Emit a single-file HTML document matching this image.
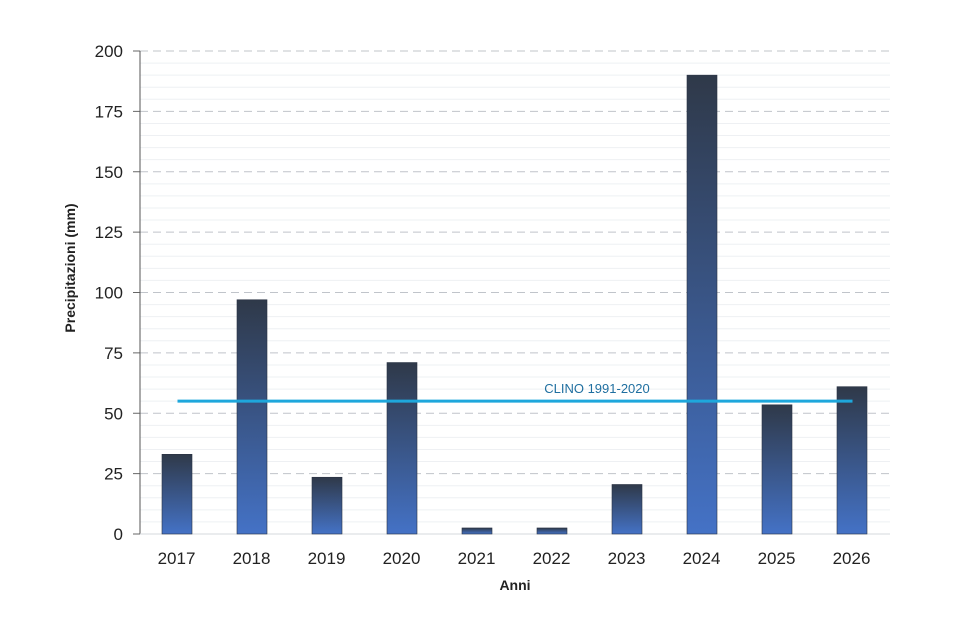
<!DOCTYPE html>
<html><head><meta charset="utf-8"><style>
body{margin:0;background:#fff;}
svg{display:block;font-family:"Liberation Sans",sans-serif;}
</style></head><body>
<svg id="c" width="980" height="631">
<defs><linearGradient id="g" x1="0" y1="0" x2="0" y2="1"><stop offset="0" stop-color="#2f3949"/><stop offset="1" stop-color="#4472c6"/></linearGradient></defs>
</svg>
<script>
const categories=["2017","2018","2019","2020","2021","2022","2023","2024","2025","2026"];
const values=[33,97,23.5,71,2.5,2.5,20.5,190,53.5,61];
const yTicks=[0,25,50,75,100,125,150,175,200];
const clinoValue=55;
const clinoLabel="CLINO 1991-2020";
const svg=document.getElementById('c');
const NS="http://www.w3.org/2000/svg";
const X0=140,X1=890,Y0=534,Y1=51,YMAX=200;
const y=v=>Y0-(v/YMAX)*(Y0-Y1);
const bw=(X1-X0)/categories.length;
const xc=i=>X0+bw*(i+0.5);
function mk(t,a,p){const e=document.createElementNS(NS,t);for(const k in a)e.setAttribute(k,a[k]);(p||svg).appendChild(e);return e;}
for(let v=5;v<YMAX;v+=5){if(v%25===0)continue;
 const l=mk('line',{x1:X0,x2:X1,y1:y(v),y2:y(v),stroke:'#eef0f3','stroke-width':1});
 
 }
yTicks.forEach(v=>{
 if(v>0){const l=mk('line',{x1:X0,x2:X1,y1:y(v),y2:y(v),stroke:'#c0c4ca','stroke-width':1,'stroke-dasharray':'8,5'});
 
 }
 const tk=mk('line',{x1:X0-7,x2:X0,y1:y(v),y2:y(v),stroke:'#666'});
 
 
 const t=mk('text',{x:123,y:y(v)+6,'text-anchor':'end','font-size':17,fill:'#222'});t.textContent=v;
 
 
});
const ax=mk('line',{x1:X0,x2:X0,y1:Y1,y2:Y0,stroke:'#555'});


const bx=mk('line',{x1:X0,x2:X1,y1:Y0,y2:Y0,stroke:'#d5d8dd'});


categories.forEach((c,i)=>{
 const r=mk('rect',{x:xc(i)-15.5,y:y(values[i]),width:30,height:Y0-y(values[i]),fill:'url(#g)',stroke:'#2a3344','stroke-width':0.6});
 
 
 const t=mk('text',{x:xc(i)-1,y:564,'text-anchor':'middle','font-size':17,fill:'#222'});t.textContent=c;
 
 
});
const cl=mk('line',{x1:xc(0),x2:xc(categories.length-1),y1:y(clinoValue),y2:y(clinoValue),stroke:'#1ea7dc','stroke-width':3});


const ct=mk('text',{x:597,y:y(clinoValue)-8,'text-anchor':'middle','font-size':13,fill:'#1f6fa0'});ct.textContent=clinoLabel;


const xt=mk('text',{x:515,y:590,'text-anchor':'middle','font-size':14,'font-weight':'bold',fill:'#222'});xt.textContent="Anni";


const yt=mk('text',{x:0,y:0,'text-anchor':'middle','font-size':14,'font-weight':'bold',fill:'#222',transform:'translate(75,268) rotate(-90)'});yt.textContent="Precipitazioni (mm)";


</script>
</body></html>
